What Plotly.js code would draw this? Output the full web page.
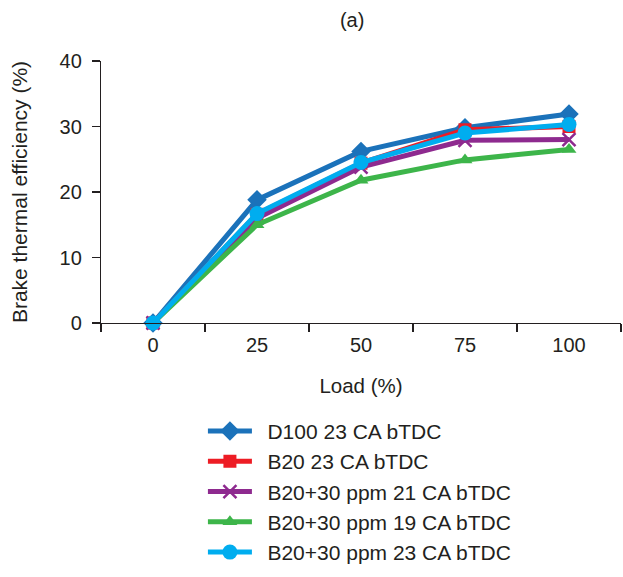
<!DOCTYPE html>
<html><head><meta charset="utf-8">
<script src="https://cdn.plot.ly/plotly-3.0.1.min.js"></script>
<style>body{margin:0;background:#fff}#c{width:623px;height:577px}</style>
</head><body><div id="c"></div>
<script>
const loads = ["0", "25", "50", "75", "100"];
const seriesNames = ["D100 23 CA bTDC", "B20 23 CA bTDC", "B20+30 ppm 21 CA bTDC", "B20+30 ppm 19 CA bTDC", "B20+30 ppm 23 CA bTDC"];
const d100 = [0, 18.8, 26.2, 29.8, 31.9];
const b20 = [0, 16.6, 24.4, 29.5, 30.0];
const b20_21 = [0, 16.0, 23.8, 27.9, 28.0];
const b20_19 = [0, 15.0, 21.8, 24.9, 26.5];
const b20_23 = [0, 16.7, 24.5, 29.0, 30.3];

const colors = ["#1b72ba", "#ed1c24", "#8e2a8f", "#3db54a", "#00adef"];
const symbols = ["diamond", "square", "x-thin-open", "triangle-up", "circle"];
const sizes = [15, 13, 13, 13, 15];
const allY = [d100, b20, b20_21, b20_19, b20_23];

const traces = allY.map((y, i) => ({
  x: loads, y: y, name: "\u2002" + seriesNames[i], type: "scatter", mode: "lines+markers",
  legendgroup: "g" + i,
  line: {color: colors[i], width: 5},
  marker: {symbol: symbols[i], size: sizes[i], color: colors[i],
           line: {color: colors[i], width: i === 2 ? 2.5 : 0}},
  cliponaxis: false
}));

const layout = {
  width: 623, height: 577,
  margin: {l: 101, r: 2, t: 61, b: 254},
  paper_bgcolor: "#fff", plot_bgcolor: "#fff",
  font: {family: "Liberation Sans, Arial, sans-serif", size: 20, color: "#231f20"},
  title: {text: "(a)", x: 0.483, xref: "paper", xanchor: "center", y: 0.965, yanchor: "middle", font: {size: 20}},
  xaxis: {
    type: "category", range: [-0.5, 4.5], tickson: "boundaries",
    showline: true, linecolor: "#231f20", linewidth: 1.2,
    ticks: "outside", ticklen: 8, tickcolor: "#231f20", tickwidth: 1.2,
    ticklabelstandoff: 4,
    showgrid: false, zeroline: false,
    title: {text: "Load (%)", standoff: 23, font: {size: 20.5}},
    tickfont: {size: 20}
  },
  yaxis: {
    range: [0, 40], tickvals: [0, 10, 20, 30, 40],
    showline: true, linecolor: "#231f20", linewidth: 1.2,
    ticks: "outside", ticklen: 8, tickcolor: "#231f20", tickwidth: 1.2,
    ticklabelstandoff: 6,
    showgrid: false, zeroline: false,
    title: {text: "Brake thermal efficiency (%)", standoff: 26, font: {size: 21}},
    tickfont: {size: 20}
  },
  showlegend: true,
  legend: {
    x: 0.196, xanchor: "left", y: -0.335, yanchor: "top",
    traceorder: "grouped", tracegroupgap: 0, itemwidth: 44,
    font: {size: 21}, bgcolor: "rgba(0,0,0,0)"
  }
};
Plotly.newPlot("c", traces, layout, {displayModeBar: false, staticPlot: true});
</script></body></html>
